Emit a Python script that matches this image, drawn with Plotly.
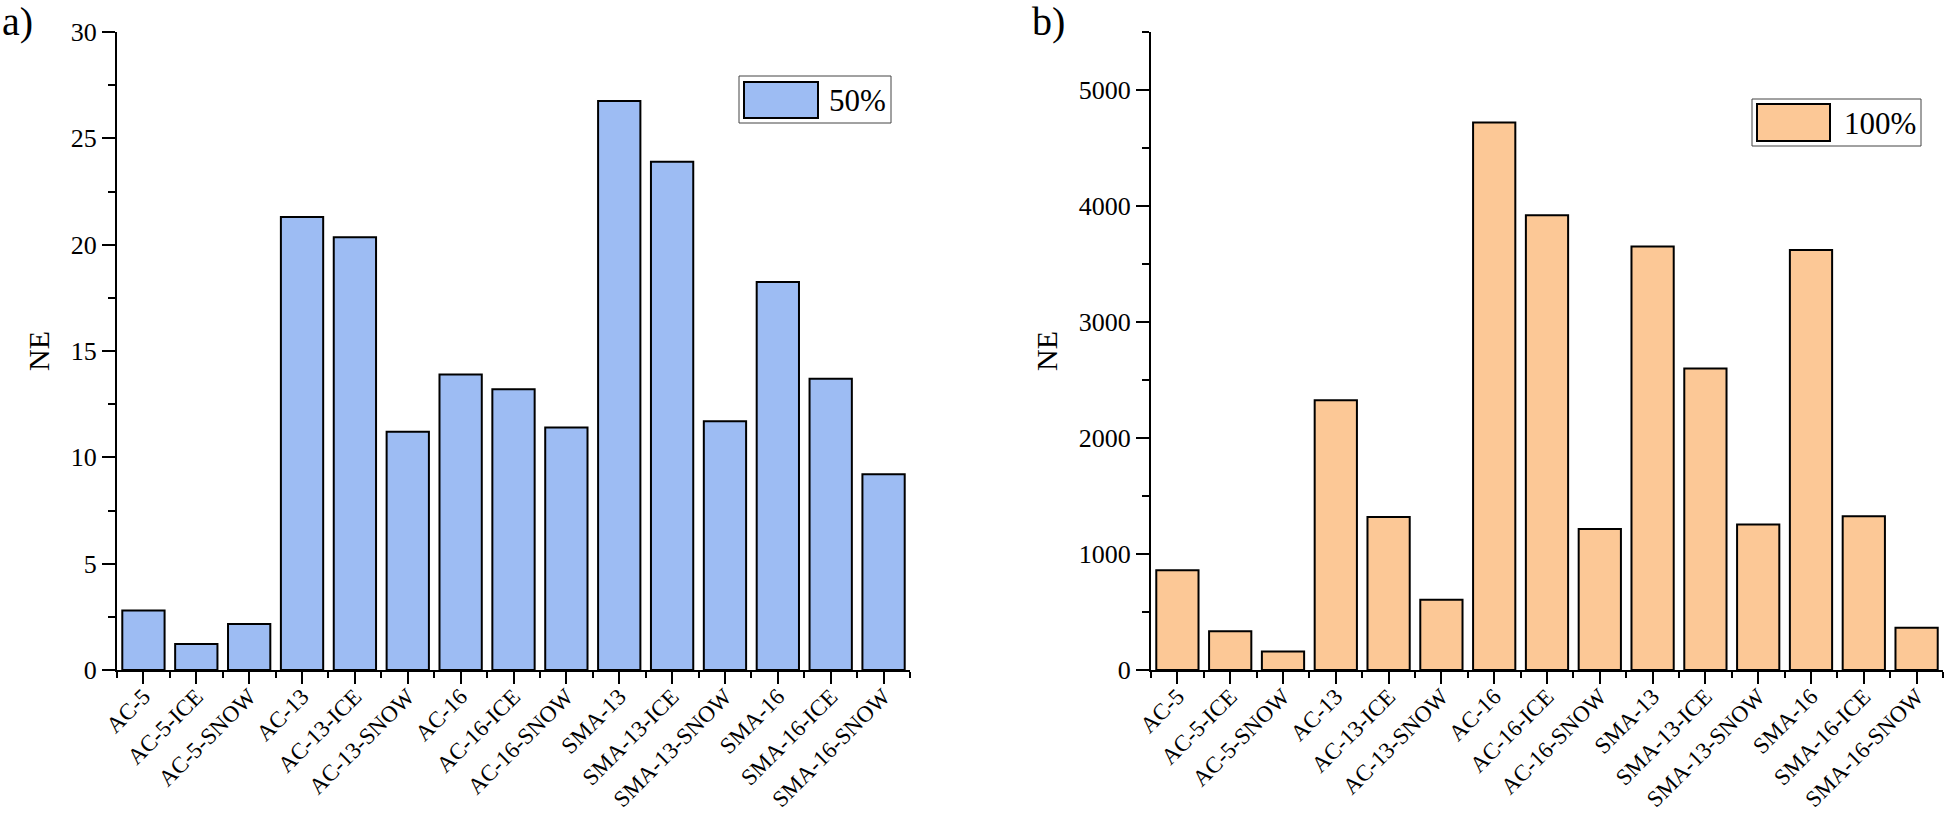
import plotly.graph_objects as go
from plotly.subplots import make_subplots

categories = ["AC-5", "AC-5-ICE", "AC-5-SNOW", "AC-13", "AC-13-ICE", "AC-13-SNOW",
              "AC-16", "AC-16-ICE", "AC-16-SNOW", "SMA-13", "SMA-13-ICE", "SMA-13-SNOW",
              "SMA-16", "SMA-16-ICE", "SMA-16-SNOW"]
ne_50 = [2.8, 1.22, 2.16, 21.3, 20.35, 11.2, 13.9, 13.2, 11.4, 26.75, 23.9, 11.7, 18.25, 13.7, 9.2]
ne_100 = [860, 335, 160, 2325, 1320, 605, 4720, 3920, 1215, 3650, 2600, 1255, 3620, 1325, 365]
legend_50 = "50%"
legend_100 = "100%"

W, H = 1946, 818
FONT = "Liberation Serif"
blue = "#9dbcf3"
orange = "#fcc896"

xpos = list(range(len(categories)))
bounds = [i - 0.5 for i in range(len(categories) + 1)]

fig = make_subplots(rows=1, cols=2)
fig.add_trace(go.Bar(x=xpos, y=ne_50, marker=dict(color=blue, line=dict(color="black", width=2)),
                     width=0.8, name=legend_50, showlegend=False), row=1, col=1)
fig.add_trace(go.Bar(x=xpos, y=ne_100, marker=dict(color=orange, line=dict(color="black", width=2)),
                     width=0.8, name=legend_100, showlegend=False), row=1, col=2)

def px(x):
    return x / W

def py(y):
    return 1 - y / H

xcommon = dict(range=[-0.5, 14.5], tickmode="array", tickvals=xpos, ticktext=categories,
               tickangle=-45, ticks="outside", ticklen=12, tickwidth=2, tickcolor="black",
               showline=True, linecolor="black", linewidth=2, showgrid=False, zeroline=False,
               automargin=False, ticklabelstandoff=-10,
               tickfont=dict(family=FONT, size=23, color="black"),
               minor=dict(tickmode="array", tickvals=bounds, ticks="outside", ticklen=6,
                          tickwidth=2, tickcolor="black", showgrid=False))
fig.update_xaxes(**xcommon)
fig.update_xaxes(domain=[px(117), px(910)], row=1, col=1)
fig.update_xaxes(domain=[px(1151), px(1943)], row=1, col=2)

ycommon = dict(ticks="outside", ticklen=13, tickwidth=2, tickcolor="black",
               showline=True, linecolor="black", linewidth=2, showgrid=False, zeroline=False,
               automargin=False,
               tickfont=dict(family=FONT, size=26, color="black"),
               domain=[py(670), py(32)])
fig.update_yaxes(**ycommon)
fig.update_yaxes(range=[0, 30], dtick=5,
                 minor=dict(dtick=2.5, ticks="outside", ticklen=7, tickwidth=2, tickcolor="black", showgrid=False),
                 title=dict(text="NE", font=dict(family=FONT, size=30, color="black"), standoff=12),
                 row=1, col=1)
fig.update_yaxes(range=[0, 5500], dtick=1000,
                 minor=dict(dtick=500, ticks="outside", ticklen=7, tickwidth=2, tickcolor="black", showgrid=False),
                 title=dict(text="NE", font=dict(family=FONT, size=30, color="black"), standoff=12),
                 row=1, col=2)

shapes = []
annotations = []
# custom legends (box + swatch + label)
for (bx0, by0, bx1, by1, sx0, sy0, sx1, sy1, tx, ty, col, label) in [
        (739, 76, 891, 123, 744, 82, 818, 118, 827, 100, blue, legend_50),
        (1752, 99, 1921, 146, 1757, 104, 1830, 141, 1842, 123, orange, legend_100)]:
    shapes.append(dict(type="rect", xref="paper", yref="paper", x0=px(bx0), x1=px(bx1),
                       y0=py(by1), y1=py(by0), line=dict(color="#444", width=1), fillcolor="white"))
    shapes.append(dict(type="rect", xref="paper", yref="paper", x0=px(sx0), x1=px(sx1),
                       y0=py(sy1), y1=py(sy0), line=dict(color="black", width=2), fillcolor=col))
    annotations.append(dict(xref="paper", yref="paper", x=px(tx), y=py(ty), text=label,
                            showarrow=False, xanchor="left", yanchor="middle",
                            font=dict(family=FONT, size=31, color="black")))

annotations.append(dict(xref="paper", yref="paper", x=px(0), y=py(22), text="a)", showarrow=False,
                        xanchor="left", yanchor="middle", font=dict(family=FONT, size=40, color="black")))
annotations.append(dict(xref="paper", yref="paper", x=px(1030), y=py(22), text="b)", showarrow=False,
                        xanchor="left", yanchor="middle", font=dict(family=FONT, size=40, color="black")))

fig.update_layout(width=W, height=H, margin=dict(l=0, r=0, t=0, b=0),
                  plot_bgcolor="white", paper_bgcolor="white",
                  shapes=shapes, annotations=annotations, showlegend=False,
                  font=dict(family=FONT, color="black"))

fig.write_html("out.html", config={"displayModeBar": False},
               post_script="document.body.style.margin='0';document.body.style.padding='0';document.body.style.overflow='hidden';")
